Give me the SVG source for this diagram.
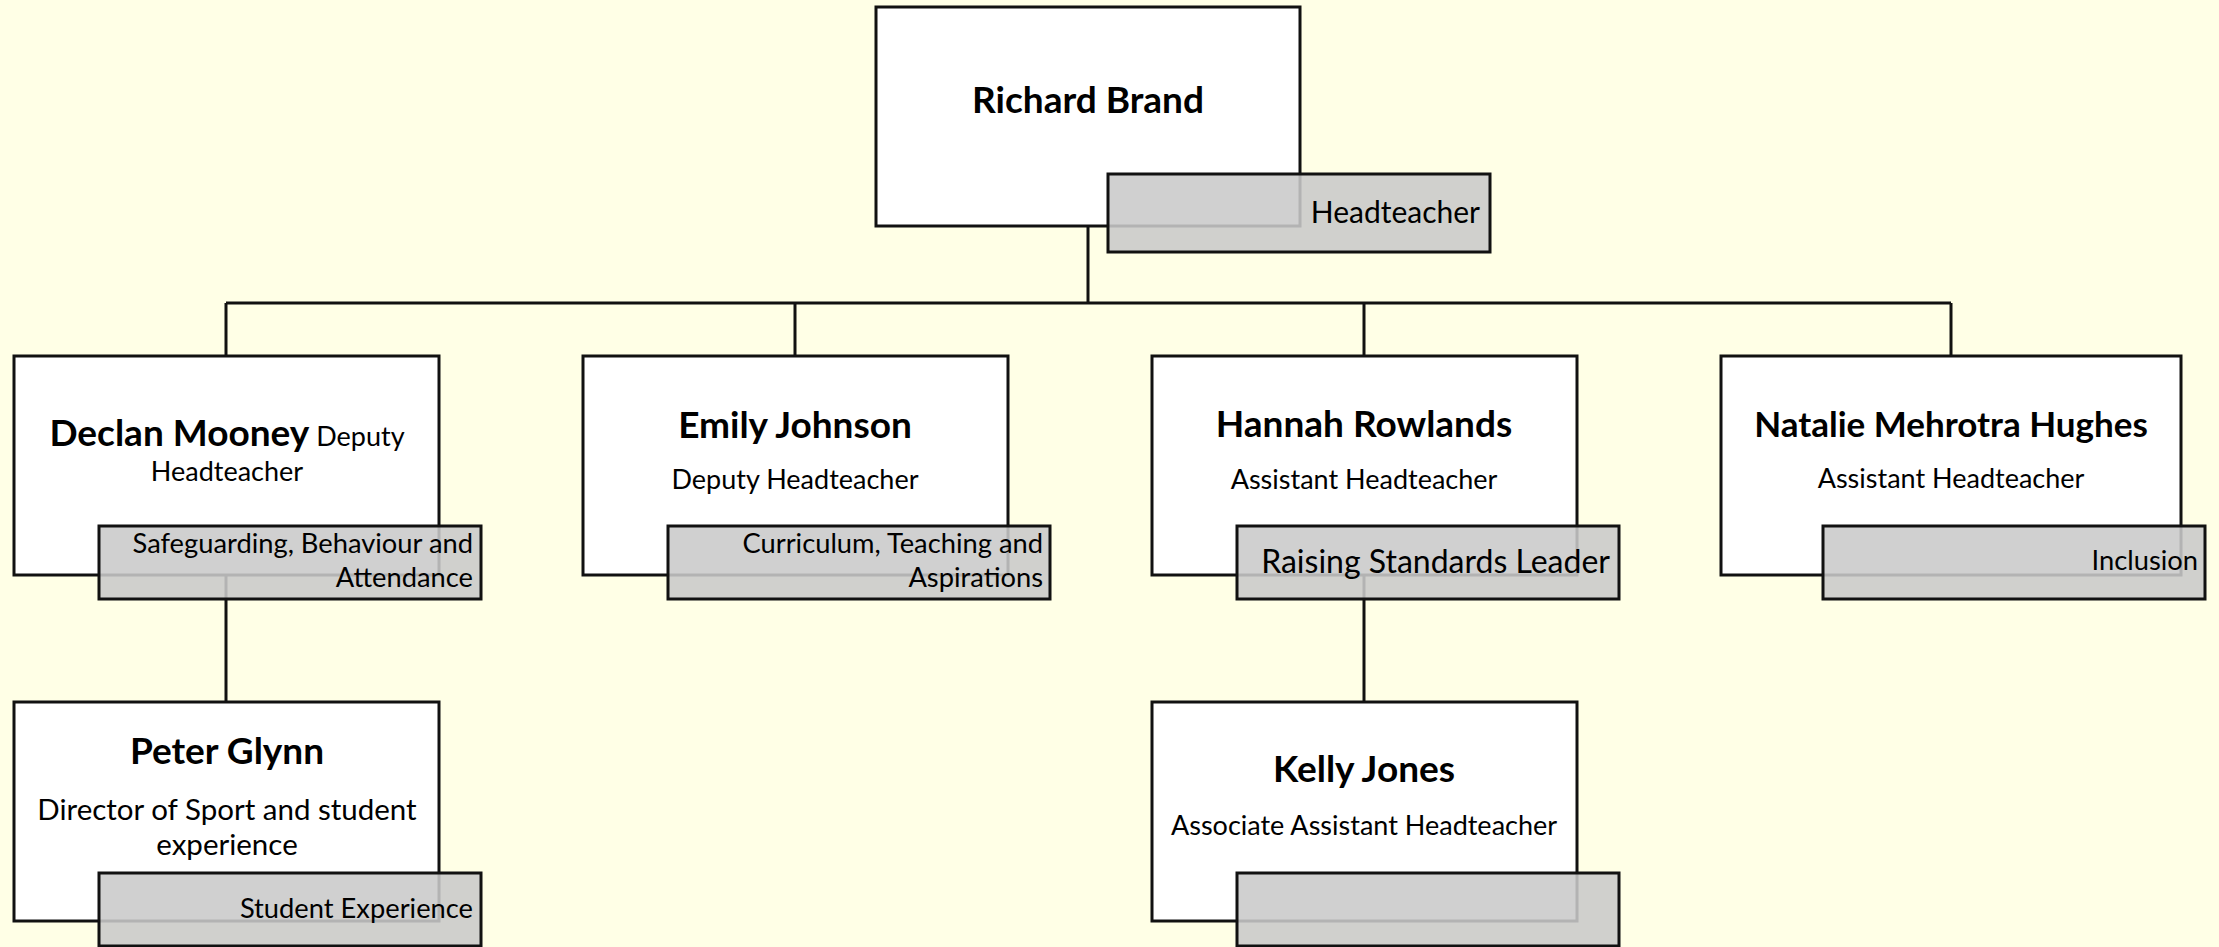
<svg xmlns="http://www.w3.org/2000/svg" width="2219" height="947" viewBox="0 0 2219 947">
<style>
.bg{fill:#FFFFE6}
.box{fill:#FFFFFF;stroke:#111111;stroke-width:3}
.lbl{fill:#C9C9C9;fill-opacity:0.88;stroke:#111111;stroke-width:3}
.conn{stroke:#111111;stroke-width:3;fill:none}
text{font-family:Lato,"Liberation Sans",sans-serif;fill:#000000}
.name{font-size:37px;font-weight:bold;text-anchor:middle}
.sub{font-size:27px;text-anchor:middle}
.tag{font-size:27.3px;text-anchor:end}
.tagbig{font-size:32px;text-anchor:end}
</style>
<rect class="bg" x="0" y="0" width="2219" height="947"/>
<g id="connectors">
<path class="conn" d="M1088 226 V303"/>
<path class="conn" d="M226 303 H1951"/>
<path class="conn" d="M226 303 V356"/>
<path class="conn" d="M795 303 V356"/>
<path class="conn" d="M1364 303 V356"/>
<path class="conn" d="M1951 303 V356"/>
<path class="conn" d="M226 575 V702"/>
<path class="conn" d="M1364 575 V702"/>
</g>
<g id="richard">
<rect class="box" x="876" y="7" width="424" height="219"/>
<rect class="lbl" x="1108" y="174" width="382" height="78"/>
<text class="name" x="1088" y="113">Richard Brand</text>
<text class="tag" x="1480" y="223" style="font-size:30px">Headteacher</text>
</g>
<g id="declan">
<rect class="box" x="14" y="356" width="425" height="219"/>
<rect class="lbl" x="99" y="526" width="382" height="73"/>
<text class="name" x="227" y="446">Declan Mooney<tspan style="font-weight:normal;font-size:27px"> Deputy</tspan></text>
<text class="sub" x="227" y="481">Headteacher</text>
<text class="tag" x="473" y="553">Safeguarding, Behaviour and</text>
<text class="tag" x="473" y="587">Attendance</text>
</g>
<g id="emily">
<rect class="box" x="583" y="356" width="425" height="219"/>
<rect class="lbl" x="668" y="526" width="382" height="73"/>
<text class="name" x="795" y="438">Emily Johnson</text>
<text class="sub" x="795" y="489">Deputy Headteacher</text>
<text class="tag" x="1043" y="553">Curriculum, Teaching and</text>
<text class="tag" x="1043" y="587">Aspirations</text>
</g>
<g id="hannah">
<rect class="box" x="1152" y="356" width="425" height="219"/>
<rect class="lbl" x="1237" y="526" width="382" height="73"/>
<text class="name" x="1364" y="437">Hannah Rowlands</text>
<text class="sub" x="1364" y="489">Assistant Headteacher</text>
<text class="tagbig" x="1610" y="573">Raising Standards Leader</text>
</g>
<g id="natalie">
<rect class="box" x="1721" y="356" width="460" height="219"/>
<rect class="lbl" x="1823" y="526" width="382" height="73"/>
<text class="name" x="1951" y="437" style="font-size:35px">Natalie Mehrotra Hughes</text>
<text class="sub" x="1951" y="488">Assistant Headteacher</text>
<text class="tag" x="2198" y="570">Inclusion</text>
</g>
<g id="peter">
<rect class="box" x="14" y="702" width="425" height="219"/>
<rect class="lbl" x="99" y="873" width="382" height="73"/>
<text class="name" x="227" y="764">Peter Glynn</text>
<text class="sub" x="227" y="820" style="font-size:29.5px">Director of Sport and student</text>
<text class="sub" x="227" y="855" style="font-size:29.5px">experience</text>
<text class="tag" x="473" y="918">Student Experience</text>
</g>
<g id="kelly">
<rect class="box" x="1152" y="702" width="425" height="219"/>
<rect class="lbl" x="1237" y="873" width="382" height="73"/>
<text class="name" x="1364" y="782">Kelly Jones</text>
<text class="sub" x="1364" y="835">Associate Assistant Headteacher</text>
</g>
</svg>
